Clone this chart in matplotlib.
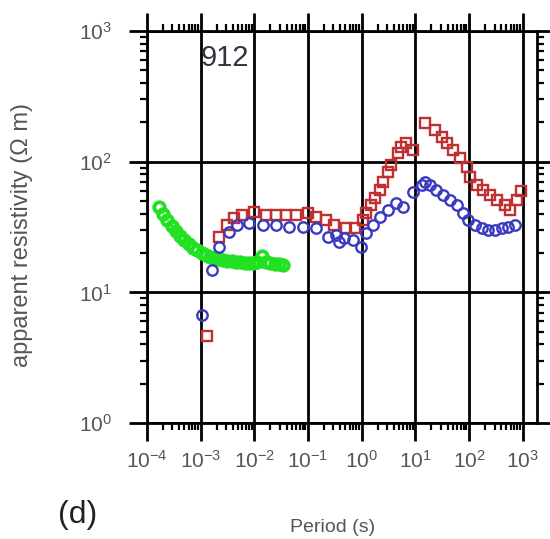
import matplotlib
matplotlib.use('Agg')
import matplotlib.pyplot as plt
from matplotlib.ticker import LogLocator, NullFormatter

plt.rcParams['font.family'] = ['Liberation Sans', 'DejaVu Sans']
plt.rcParams['mathtext.fontset'] = 'custom'
plt.rcParams['mathtext.rm'] = 'Liberation Sans'
plt.rcParams['mathtext.it'] = 'Liberation Sans:italic'
plt.rcParams['mathtext.bf'] = 'Liberation Sans:bold'

site = '912'

# xy mode (red squares)
period_xy = [1.34e-3, 2.22e-3, 3.17e-3, 4.23e-3, 6.04e-3, 1.0e-2, 1.66e-2, 2.55e-2,
             3.92e-2, 6.0e-2, 9.9e-2, 0.142, 0.219, 0.313, 0.518, 0.74, 1.06, 1.22,
             1.52, 1.75, 2.17, 2.5, 3.1, 3.59, 4.77, 5.52, 6.85, 9.1, 15.1, 23.1,
             30.9, 38.3, 50.9, 67.9, 90.6, 104, 139, 185, 247, 330, 471, 584, 780, 930]
rho_xy = [4.6, 26.7, 32.8, 36.9, 39.1, 41.4, 39.1, 39.1,
          39.1, 39.1, 40.3, 37.9, 35.8, 32.8, 30.9, 30.9, 35.8, 40.3,
          46.6, 52.8, 60.7, 70.3, 83.8, 94.4, 116, 130, 138, 123, 197, 175,
          155, 138, 123, 106, 91.6, 76.8, 66.3, 60.7, 55.6, 50.9, 46.6, 42.7, 50.9, 60]

# yx mode (blue circles)
period_yx = [1.08e-3, 1.66e-3, 2.22e-3, 3.41e-3, 4.88e-3, 8.07e-3, 1.43e-2, 2.55e-2,
             4.51e-2, 8.0e-2, 0.142, 0.234, 0.336, 0.388, 0.481, 0.687, 0.986, 1.22,
             1.63, 2.17, 3.1, 4.45, 5.92, 9.1, 13.1, 15.1, 18.7, 24.9, 33.1, 44.2,
             58.9, 78.2, 97, 129, 173, 230, 306, 408, 543, 724]
rho_yx = [6.7, 14.8, 22.4, 29.1, 32.8, 33.8, 32.8, 32.8,
          31.8, 31.8, 30.9, 26.7, 27.5, 24.4, 25.9, 25.2, 22.4, 28.3,
          32.8, 37.9, 42.7, 48.1, 45.2, 58.9, 66.3, 70.3, 66.3, 60.7, 55.6, 50.9,
          46.6, 40.5, 35.8, 32.8, 30.9, 30.0, 30.0, 30.9, 31.8, 32.8]

# high frequency band (green circles)
period_hf = [1.66e-4, 2.0e-4, 2.4e-4, 2.88e-4, 3.47e-4, 4.17e-4, 5.0e-4, 6.03e-4,
             7.24e-4, 8.7e-4, 1.05e-3, 1.26e-3, 1.51e-3, 1.82e-3, 2.19e-3, 2.63e-3,
             3.16e-3, 3.8e-3, 4.57e-3, 5.5e-3, 6.6e-3, 7.94e-3, 9.55e-3, 1.15e-2,
             1.38e-2, 1.66e-2, 2.0e-2, 2.4e-2, 2.88e-2, 3.47e-2]
rho_hf = [45, 40, 36, 32.5, 29.5, 27, 25, 23.5,
          22, 21, 20, 19.3, 18.8, 18.3, 18, 17.7,
          17.5, 17.3, 17.1, 17.0, 16.9, 16.8, 16.8, 17.0,
          19, 17, 16.7, 16.5, 16.4, 16.3]

fig = plt.figure(figsize=(5.5, 5.39), dpi=100)
ax = fig.add_axes([0.267, 0.215, 0.709, 0.7275])

ax.plot(period_hf, rho_hf, 'o', ms=7.5, mfc='none', mec='#22e022', mew=2.8)
ax.plot(period_xy, rho_xy, 's', ms=6.5, mfc='none', mec='#c03030', mew=1.7)
ax.plot(period_yx, rho_yx, 'o', ms=7.5, mfc='none', mec='#3a3ac0', mew=1.7)

ax.set_xscale('log')
ax.set_yscale('log')
ax.set_xlim(1e-4, 10 ** 3.265)
ax.set_ylim(1, 1000)

ax.xaxis.set_major_locator(LogLocator(base=10, numticks=20))
ax.xaxis.set_minor_locator(LogLocator(base=10, subs=range(2, 10), numticks=20))
ax.xaxis.set_minor_formatter(NullFormatter())
ax.yaxis.set_minor_formatter(NullFormatter())

ax.grid(True, which='major', color='black', lw=2)
ax.set_axisbelow(True)
for s in ax.spines.values():
    s.set_linewidth(2)

ax.tick_params(which='major', direction='out', length=13, width=2,
               top=True, right=True, labelsize=15, labelcolor='#555555')
ax.tick_params(which='minor', direction='out', length=5, width=1.6,
               top=True, right=True)
ax.tick_params(axis='y', which='major', pad=12)
ax.tick_params(axis='x', which='major', pad=6)

ax.text(1.02e-3, 10 ** 2.79, site, fontsize=21, color='#33333f', va='center', ha='left')

fig.text(22 / 550, 1 - 235 / 539, 'apparent resistivity (Ω m)', rotation=90,
         ha='center', va='center', fontsize=17, color='#555555')
fig.text(333 / 550, 1 - 528 / 539, 'Period (s)', ha='center', va='center',
         fontsize=14, color='#555555')
fig.text(78 / 550, 1 - 515 / 539, '(d)', ha='center', va='center',
         fontsize=23, color='#222222')

fig.savefig('out.png', dpi=100)
